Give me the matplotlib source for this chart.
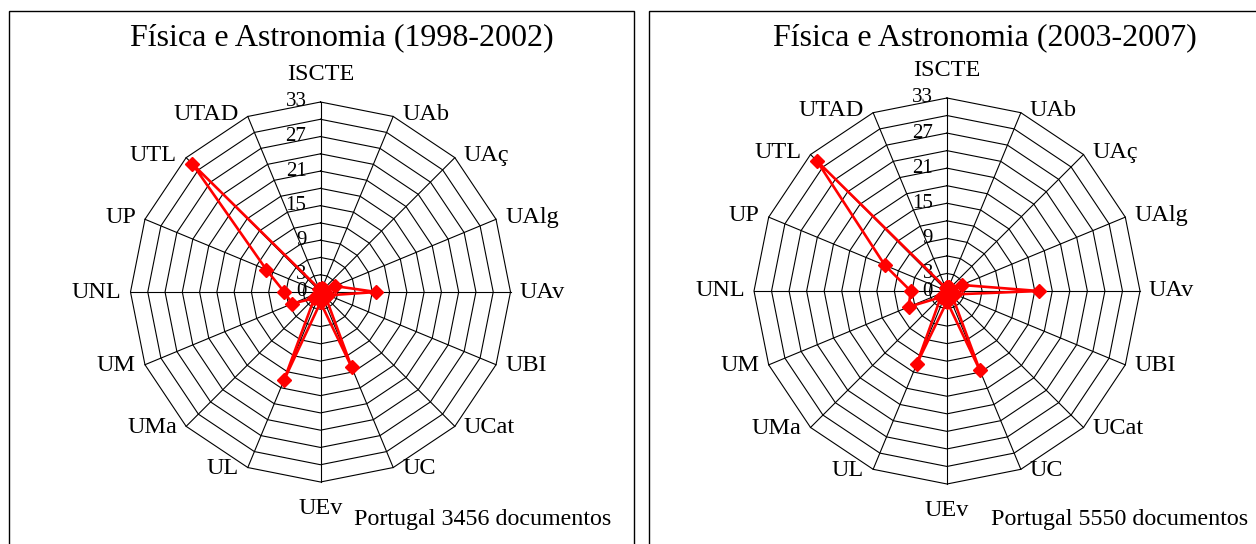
import numpy as np
import matplotlib
matplotlib.use("Agg")
import matplotlib.pyplot as plt
from matplotlib.patches import Rectangle
from matplotlib.transforms import offset_copy

plt.rcParams['font.family'] = ['Liberation Serif', 'DejaVu Serif']

categories = ['ISCTE', 'UAb', 'UAç', 'UAlg', 'UAv', 'UBI', 'UCat', 'UC',
              'UEv', 'UL', 'UMa', 'UM', 'UNL', 'UP', 'UTL', 'UTAD']
vals_1998_2002 = [0.6, 0.8, 0.8, 2.7, 9.7, 1.5, 1.3, 14.1,
                  1.8, 16.6, 1.5, 5.3, 6.3, 10.2, 31.5, 0.6]
vals_2003_2007 = [0.6, 0.8, 0.8, 2.7, 15.7, 1.5, 1.3, 14.6,
                  1.8, 13.5, 1.5, 7.1, 6.2, 11.5, 31.5, 0.6]
ring_values = [3, 6, 9, 12, 15, 18, 21, 24, 27, 30, 33]
tick_values = [0, 3, 9, 15, 21, 27, 33]
titles = ['Física e Astronomia (1998-2002)', 'Física e Astronomia (2003-2007)']
notes = ['Portugal 3456 documentos', 'Portugal 5550 documentos']

W, H = 1256, 544
fig = plt.figure(figsize=(W / 100, H / 100), dpi=100)

panels = [
    dict(box=(9, 634), c=(320.5, 292), r=190, title_x=341.7, note_r=611),
    dict(box=(649, 1262), c=(947, 291), r=193, title_x=984.5, note_r=1248),
]
datasets = [vals_1998_2002, vals_2003_2007]

n = len(categories)
theta = np.arange(n) * 2 * np.pi / n
theta_closed = np.append(theta, theta[0])

for p, vals, ttl, note in zip(panels, datasets, titles, notes):
    bx0, bx1 = p['box']
    fig.patches.append(Rectangle((bx0 / W, -0.1), (bx1 - bx0) / W, 1.1 - 11 / H,
                                 transform=fig.transFigure, fill=False,
                                 edgecolor='black', linewidth=1.0))
    cx, cy = p['c']
    R = p['r']
    ax = fig.add_axes([(cx - R) / W, (H - cy - R) / H, 2 * R / W, 2 * R / H],
                      projection='polar')
    ax.set_theta_zero_location('N')
    ax.set_theta_direction(-1)
    ax.set_ylim(0, 33)
    ax.grid(False)
    ax.set_xticks([])
    ax.set_yticks([])
    ax.spines['polar'].set_visible(False)
    ax.patch.set_alpha(0)

    for rv in ring_values:
        ax.plot(theta_closed, [rv] * (n + 1), color='black', lw=0.8,
                clip_on=False, zorder=1)
    for t in theta:
        ax.plot([t, t], [0, 33], color='black', lw=0.8, clip_on=False, zorder=1)

    v = list(vals) + [vals[0]]
    ax.plot(theta_closed, v, color='#ff0000', lw=1.9, marker='D', ms=7.5,
            mec='#ff0000', mfc='#ff0000', clip_on=False, zorder=3)

    tt = offset_copy(ax.transData, fig=fig, x=-14, y=0, units='dots')
    for tv in tick_values:
        ax.text(0, tv, str(tv), transform=tt, ha='right', va='center',
                fontsize=15, zorder=2)

    for t, lab in zip(theta, categories):
        s, c = np.sin(t), np.cos(t)
        if abs(s) < 0.1:
            dx, dy = 0, 27 * np.sign(c)
            ha = 'center'
        else:
            dx, dy = 9 * np.sign(s), 2 if c > 0.1 else (-1 if c < -0.1 else 0)
            ha = 'left' if s > 0 else 'right'
        tr = offset_copy(ax.transData, fig=fig, x=dx, y=dy, units='dots')
        ax.text(t, 33, lab, transform=tr, ha=ha, va='center', fontsize=17.5)

    fig.text(p['title_x'] / W, 1 - 38 / H, ttl, ha='center', va='center',
             fontsize=23)
    fig.text(p['note_r'] / W, 1 - 520 / H, note, ha='right', va='center',
             fontsize=17.3)

fig.savefig('out.png', dpi=100, facecolor='white')
